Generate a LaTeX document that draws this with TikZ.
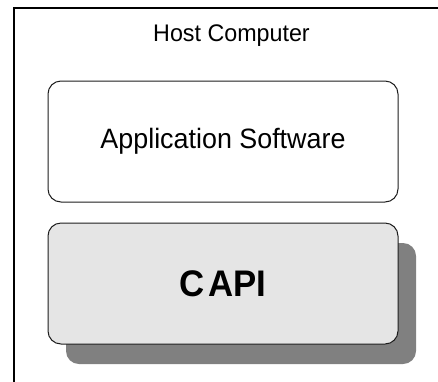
\documentclass[tikz,border=0pt]{standalone}
\usepackage{fontspec}
\setmainfont{Liberation Sans}
\newfontfamily\narrowfont[FakeStretch=0.97]{Liberation Sans}
\newfontfamily\appfont[FakeStretch=0.96]{Liberation Sans}
\newfontfamily\apifont[FakeStretch=0.94]{Liberation Sans}
\usetikzlibrary{shadows}
\definecolor{boxfill}{RGB}{229,229,229}
\definecolor{shadowgray}{RGB}{128,128,128}
\definecolor{edge}{RGB}{30,30,30}
\begin{document}
\begin{tikzpicture}[x=1pt,y=1pt,
  layerbox/.style={draw=edge, line width=1pt, rounded corners=13pt,
    minimum width=350pt, minimum height=121pt, inner sep=0pt, align=center},
  deepshadow/.style={drop shadow={shadow xshift=18pt, shadow yshift=-20pt,
    fill=shadowgray, opacity=1}},
  framebox/.style={draw=black, line width=2pt, inner sep=0pt}]
\useasboundingbox (0,0) rectangle (438,-381);
\fill[white] (0,0) rectangle (438,-381);
\node[framebox, minimum width=480pt, minimum height=420pt, anchor=north west] (frame) at (13,-7) {};
\node[anchor=base, inner sep=0pt] (host) at (231.5,-41) {\narrowfont\fontsize{24}{28}\selectfont Host Computer};
\node[layerbox, fill=white] (app) at (223,-141.5) {\appfont\fontsize{28}{32}\selectfont Application Software};
\node[layerbox, fill=boxfill, deepshadow] (capi) at (223,-283.5) {\apifont\bfseries\fontsize{37}{42}\selectfont C\hspace{4pt}API};
\end{tikzpicture}
\end{document}
